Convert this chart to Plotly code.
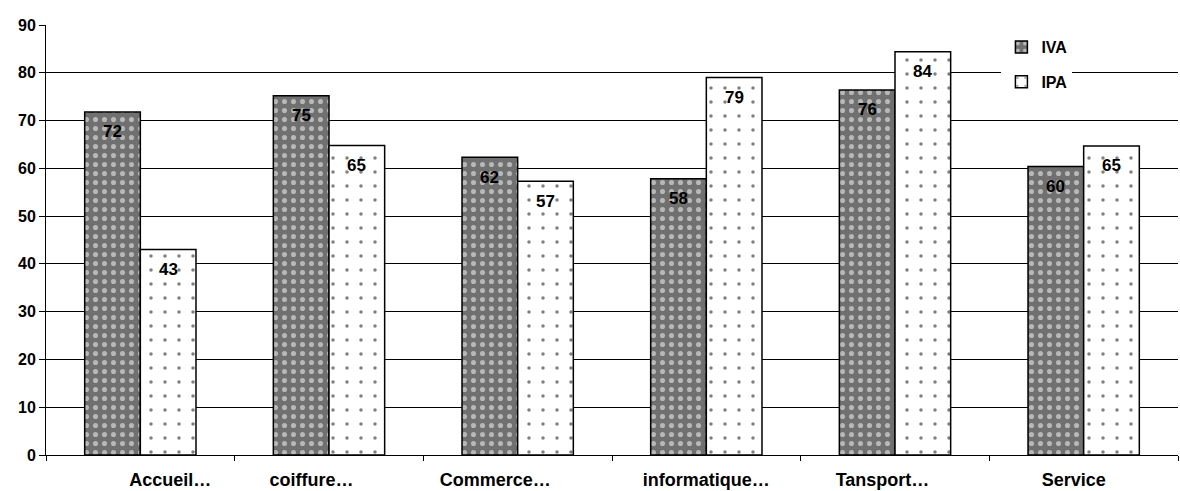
import plotly.graph_objects as go

categories = ["Accueil…", "coiffure…", "Commerce…", "informatique…", "Tansport…", "Service"]
iva = [71.8, 75.2, 62.3, 57.8, 76.4, 60.4]
ipa = [43.0, 64.8, 57.3, 79.0, 84.4, 64.7]
iva_labels = ["72", "75", "62", "58", "76", "60"]
ipa_labels = ["43", "65", "57", "79", "84", "65"]
y_ticks = [0, 10, 20, 30, 40, 50, 60, 70, 80, 90]

# label padding (non-breaking spaces) to mimic the original label placement
pad_left = [12, 0, 0, 0, 0, 0]
pad_right = [0, 7, 9, 0, 5, 4]
NB = "\u00a0"
tick_text = [NB * l + c + NB * r for c, l, r in zip(categories, pad_left, pad_right)]

font_family = "Liberation Sans, Arial, sans-serif"
label_font = dict(family=font_family, size=17, color="black", weight="bold")

fig = go.Figure()
fig.add_trace(go.Bar(
    name="IVA", x=categories, y=iva, legendgroup="a",
    marker=dict(color="#8c8c8c", line=dict(color="black", width=1.5),
                pattern=dict(shape=".", fgcolor="white", bgcolor="#707070", size=9, solidity=0.25)),
))
fig.add_trace(go.Bar(
    name="IPA", x=categories, y=ipa, legendgroup="b",
    marker=dict(color="white", line=dict(color="black", width=1.5),
                pattern=dict(shape=".", fgcolor="black", bgcolor="white", size=14, solidity=0.05)),
))

# value labels, anchored at each bar top via data coordinates
half_bar = 1132 / 6 * (1 - 0.41) / 4
for sign, vals, labs in ((-1, iva, iva_labels), (1, ipa, ipa_labels)):
    for c, v, t in zip(categories, vals, labs):
        fig.add_annotation(x=c, y=v, text=t, showarrow=False,
                           xshift=sign * half_bar, yshift=-20,
                           font=label_font)

fig.update_layout(
    width=1180, height=491,
    margin=dict(l=46, r=2, t=25, b=36),
    paper_bgcolor="white", plot_bgcolor="white",
    barmode="group", bargap=0.41, bargroupgap=0,
    font=dict(family=font_family, size=16, color="black"),
    legend=dict(x=0.844, y=0.988, xanchor="left", yanchor="top",
                bgcolor="white", borderwidth=0, traceorder="grouped",
                font=dict(family=font_family, size=16, color="black", weight="bold"),
                itemwidth=30, tracegroupgap=11),
    showlegend=True,
)
fig.update_xaxes(
    showline=True, linecolor="black", linewidth=1,
    ticks="outside", tickson="boundaries", ticklen=5, tickcolor="black",
    tickmode="array", tickvals=categories, ticktext=tick_text,
    ticklabelstandoff=8,
    tickfont=dict(family=font_family, size=18, color="black", weight="bold"),
    showgrid=False, automargin=False,
)
fig.update_yaxes(
    range=[0, 90], tickvals=y_ticks,
    showline=True, linecolor="black", linewidth=1,
    ticks="outside", ticklen=6, tickcolor="black",
    showgrid=True, gridcolor="black", gridwidth=1,
    tickfont=dict(family=font_family, size=16, color="black", weight="bold"),
    zeroline=False, automargin=False,
)

fig.write_html("out.html", config={"displayModeBar": False},
               post_script="document.body.style.margin='0px';")
